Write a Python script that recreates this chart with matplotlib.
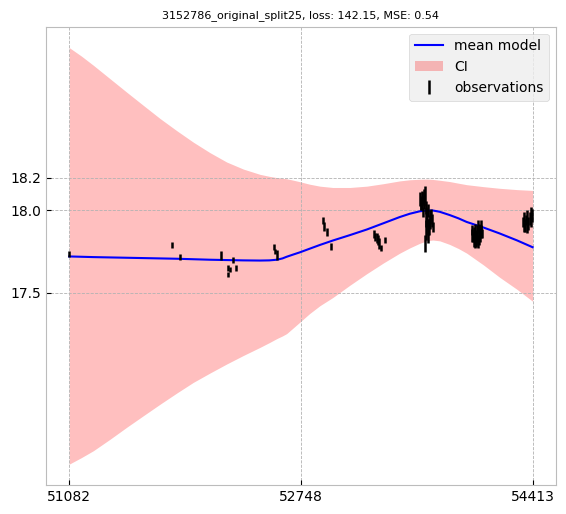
import matplotlib
matplotlib.use('Agg')
import matplotlib.pyplot as plt

plt.style.use('bmh')

# model curve (mean and confidence band)
grid_mjd = [51082, 51170, 51256, 51376, 51496, 51615, 51735, 51855, 51974, 52094,
            52214, 52334, 52453, 52520, 52575, 52615, 52645, 52690, 52740, 52810,
            52884, 52977, 53100, 53221, 53340, 53458, 53530, 53602, 53652, 53695,
            53745, 53817, 53880, 53939, 54060, 54176, 54300, 54413]
mean_mag = [17.720, 17.718, 17.716, 17.714, 17.712, 17.710, 17.708, 17.706, 17.703, 17.700,
            17.698, 17.696, 17.695, 17.696, 17.700, 17.708, 17.718, 17.731, 17.745, 17.767,
            17.790, 17.817, 17.850, 17.884, 17.922, 17.960, 17.980, 17.995, 18.000, 18.000,
            17.992, 17.972, 17.952, 17.930, 17.896, 17.860, 17.818, 17.776]
upper_mag = [18.992, 18.940, 18.884, 18.802, 18.720, 18.640, 18.560, 18.486, 18.416, 18.352,
             18.295, 18.252, 18.220, 18.208, 18.200, 18.196, 18.193, 18.185, 18.175, 18.160,
             18.148, 18.140, 18.140, 18.148, 18.163, 18.180, 18.187, 18.190, 18.191, 18.189,
             18.184, 18.176, 18.166, 18.157, 18.145, 18.135, 18.127, 18.122]
lower_mag = [16.455, 16.495, 16.537, 16.607, 16.680, 16.750, 16.820, 16.888, 16.953, 17.010,
             17.065, 17.117, 17.166, 17.195, 17.220, 17.236, 17.250, 17.283, 17.320, 17.372,
             17.420, 17.470, 17.545, 17.615, 17.680, 17.740, 17.772, 17.800, 17.815, 17.820,
             17.815, 17.793, 17.768, 17.740, 17.668, 17.593, 17.520, 17.447]

# observations
obs_mjd = [51082, 51821, 51879, 52173, 52224, 52225, 52238, 52257, 52281, 52554, 52561, 52575,
           52903, 52913, 52932, 52963, 53272, 53281, 53291, 53300, 53310, 53320, 53351,
           53606, 53610, 53614, 53618, 53620, 53626, 53630, 53632, 53637, 53640, 53643, 53645,
           53650, 53655, 53658, 53660, 53664, 53668, 53673, 53678, 53684, 53690, 53696,
           53975, 53980, 53983, 53990, 53994, 53996, 54002, 54005, 54008, 54014, 54017, 54020,
           54026, 54029, 54032, 54040, 54044, 54048,
           54345, 54349, 54352, 54358, 54366, 54370, 54374, 54382, 54392, 54398, 54404, 54410]
obs_mag = [17.735, 17.787, 17.716, 17.726, 17.610, 17.652, 17.640, 17.700, 17.652, 17.775, 17.750, 17.730,
           17.940, 17.900, 17.870, 17.780, 17.855, 17.840, 17.830, 17.820, 17.800, 17.770, 17.820,
           18.070, 18.040, 18.030, 18.080, 18.050, 17.990, 18.060, 18.080, 17.800, 18.100, 17.960, 17.880,
           18.020, 17.950, 17.900, 17.850, 18.000, 17.900, 17.960, 17.930, 17.980, 17.940, 17.900,
           17.880, 17.850, 17.840, 17.860, 17.820, 17.800, 17.880, 17.830, 17.830, 17.860, 17.900, 17.810,
           17.880, 17.840, 17.850, 17.900, 17.870, 17.860,
           17.930, 17.900, 17.960, 17.910, 17.940, 17.890, 17.960, 17.920, 17.950, 17.980, 17.930, 17.970]
obs_err = [0.020, 0.018, 0.016, 0.025, 0.016, 0.018, 0.016, 0.018, 0.018, 0.018, 0.016, 0.030,
           0.022, 0.027, 0.025, 0.020, 0.025, 0.025, 0.030, 0.030, 0.033, 0.018, 0.018,
           0.040, 0.040, 0.030, 0.040, 0.040, 0.030, 0.050, 0.050, 0.050, 0.050, 0.060, 0.060,
           0.040, 0.050, 0.050, 0.050, 0.040, 0.050, 0.040, 0.040, 0.030, 0.040, 0.030,
           0.030, 0.040, 0.030, 0.040, 0.040, 0.030, 0.040, 0.050, 0.040, 0.050, 0.040, 0.040,
           0.040, 0.050, 0.040, 0.040, 0.040, 0.030,
           0.030, 0.030, 0.030, 0.040, 0.030, 0.030, 0.040, 0.040, 0.040, 0.040, 0.030, 0.040]

xtick_vals = [51082, 52748, 54413]
ytick_vals = [17.5, 18.0, 18.2]
title = '3152786_original_split25, loss: 142.15, MSE: 0.54'

fig, ax = plt.subplots(figsize=(5.66, 5.14), dpi=100)
fig.patch.set_facecolor('white')
ax.set_facecolor('white')

ax.plot(grid_mjd, mean_mag, color='b', linewidth=1.5, label='mean model', zorder=3)
ax.fill_between(grid_mjd, lower_mag, upper_mag, color='r', alpha=0.25, linewidth=0, label='CI', zorder=1)
ax.errorbar(obs_mjd, obs_mag, yerr=obs_err, fmt='none', ecolor='k', elinewidth=1.8,
            label='observations', zorder=4)

ax.set_xticks(xtick_vals)
ax.set_xticklabels([str(v) for v in xtick_vals])
ax.set_yticks(ytick_vals)
ax.set_yticklabels(['%.1f' % v for v in ytick_vals])
ax.grid(True, linestyle='--', linewidth=0.6, color='#b2b2b2')
ax.set_title(title, fontsize=8)
ax.legend(loc='upper right', fontsize=10)

plt.subplots_adjust(left=0.0813, right=0.982, top=0.948, bottom=0.0564)
plt.savefig('out.png', dpi=100)
